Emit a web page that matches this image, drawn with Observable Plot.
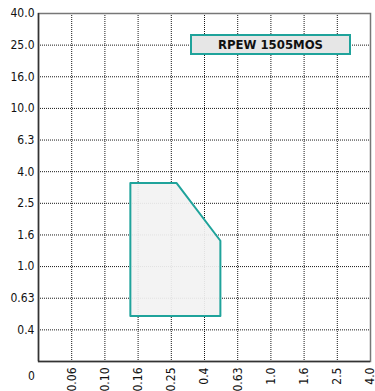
<!DOCTYPE html>
<html>
<head>
<meta charset="utf-8">
<script src="https://cdn.jsdelivr.net/npm/d3@7"></script>
<script src="https://cdn.jsdelivr.net/npm/@observablehq/plot@0.6"></script>
<style>
  body { margin: 0; background: #fff; }
  #wrap { position: relative; width: 375px; height: 391px; font-family: "Liberation Sans Narrow", "DejaVu Sans Condensed", "Roboto Condensed", sans-serif; }
  #label { position: absolute; left: 190px; top: 34px; width: 157px; height: 17px; border: 2px solid #1fa39b; background: #e6e6e6;
    font-weight: bold; font-size: 13px; text-align: center; line-height: 17px; color: #111; }
</style>
</head>
<body>
<div id="wrap"></div>
<script>
const xTicks = [0, 0.06, 0.10, 0.16, 0.25, 0.4, 0.63, 1.0, 1.6, 2.5, 4.0];
const xTickLabels = ["0", "0.06", "0.10", "0.16", "0.25", "0.4", "0.63", "1.0", "1.6", "2.5", "4.0"];
const yTicks = [0, 0.4, 0.63, 1.0, 1.6, 2.5, 4.0, 6.3, 10.0, 16.0, 25.0, 40.0];
const yTickLabels = ["0", "0.4", "0.63", "1.0", "1.6", "2.5", "4.0", "6.3", "10.0", "16.0", "25.0", "40.0"];
const areaX = [0.146, 0.146, 0.274, 0.51, 0.51];
const areaY = [0.5, 3.46, 3.46, 1.49, 0.5];
const modelName = "RPEW 1505MOS";

const poly = areaX.map((x, i) => ({x, y: areaY[i]}));
const xFmt = d => xTickLabels[xTicks.indexOf(d)];
const yFmt = d => yTickLabels[yTicks.indexOf(d)];

const chart = Plot.plot({
  width: 375,
  height: 391,
  marginLeft: 38,
  marginRight: 5,
  marginTop: 13,
  marginBottom: 30,
  style: {fontFamily: "'Liberation Sans Narrow', 'DejaVu Sans Condensed', sans-serif", fontSize: "12px", color: "#111"},
  x: {type: "linear", domain: xTicks},
  y: {type: "linear", domain: yTicks},
  marks: [
    Plot.gridX(xTicks.slice(1, -1), {stroke: "#000", strokeOpacity: 0.9, strokeDasharray: "1,1"}),
    Plot.gridY(yTicks.slice(1, -1), {stroke: "#000", strokeOpacity: 0.9, strokeDasharray: "1,1"}),
    Plot.frame({stroke: "#777", strokeWidth: 1.5}),
    Plot.ruleX([0], {stroke: "#333", strokeWidth: 1.5}),
    Plot.ruleY([0], {stroke: "#333", strokeWidth: 1.5}),
    Plot.line([...poly, poly[0]], {x: "x", y: "y", fill: "#f2f2f2", fillOpacity: 0.92, stroke: "#1fa39b", strokeWidth: 2}),
    Plot.axisY(yTicks.slice(1), {tickSize: 0, tickPadding: 4, tickFormat: yFmt, label: null, fontSize: 12}),
    Plot.axisX(xTicks.slice(1), {tickSize: 0, tickPadding: 6, tickRotate: -90, tickFormat: xFmt, label: null, fontSize: 12}),
    Plot.text([{x: 0, y: 0}], {x: "x", y: "y", text: () => "0", dx: -7, dy: 15, fontSize: 12})
  ]
});
document.getElementById("wrap").appendChild(chart);
const lab = document.createElement("div");
lab.id = "label";
lab.textContent = modelName;
document.getElementById("wrap").appendChild(lab);
</script>
</body>
</html>
